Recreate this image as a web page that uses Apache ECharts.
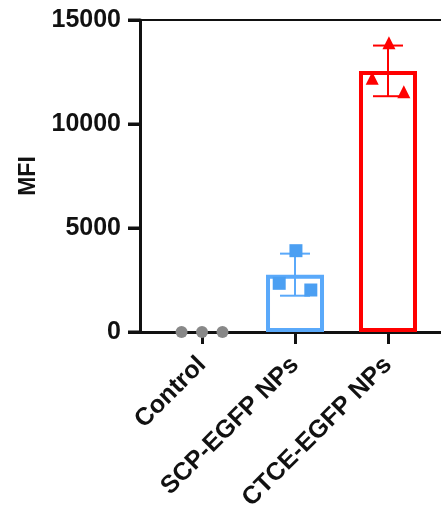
<!DOCTYPE html>
<html>
<head>
<meta charset="utf-8">
<script src="https://cdn.jsdelivr.net/npm/echarts@6/dist/echarts.min.js"></script>
<style>
  html, body { margin: 0; padding: 0; background: #fff; }
  #chart { width: 441px; height: 516px; }
</style>
</head>
<body>
<div id="chart"></div>
<script>
// Group names along the x axis
const groups = ['Control', 'SCP-EGFP NPs', 'CTCE-EGFP NPs'];
// Individual MFI replicates per group
const controlValues = [0, 0, 0];
const scpValues = [2341, 3909, 2019];
const ctceValues = [12197, 13910, 11554];
// Y axis ticks
const yTicks = [0, 5000, 10000, 15000];

// Layout: first group sits this far (in group widths) from the y axis
const firstGroupPos = 0.667;
const xMax = 3.237;
// Horizontal spread of the replicate dots within a group (group widths)
const spreadControl = [-0.22, 0, 0.22];
const spreadGroup = [-0.17, 0.01, 0.17];

const colors = ['#808080', '#5aa9fa', '#ff0000'];
const dotColors = ['#888888', '#4b9ff2', '#ff0000'];
const symbols = ['circle', 'rect', 'triangle'];

const replicates = [controlValues, scpValues, ctceValues];
const groupPos = groups.map((g, i) => firstGroupPos + i);

function mean(a) { return a.reduce((s, v) => s + v, 0) / a.length; }
function sd(a) {
  const m = mean(a);
  return Math.sqrt(a.reduce((s, v) => s + (v - m) * (v - m), 0) / (a.length - 1));
}
const means = replicates.map(mean);
const sds = replicates.map(sd);

function groupAt(v) {
  const idx = groupPos.findIndex(p => Math.abs(p - v) < 1e-6);
  return idx >= 0 ? groups[idx] : '';
}

const chart = echarts.init(document.getElementById('chart'), null, { renderer: 'canvas' });

const fontFamily = '"Liberation Sans", Arial, sans-serif';

const barData = means.map((m, i) => ({
  value: [groupPos[i], m],
  itemStyle: {
    color: 'rgba(255,255,255,0)',
    borderColor: colors[i],
    borderWidth: i === 0 ? 0 : 4
  }
}));

const errData = means
  .map((m, i) => [groupPos[i], m, m - sds[i], m + sds[i], i])
  .filter((d, i) => sds[i] > 0);

const scatterSeries = replicates.map((vals, i) => ({
  type: 'scatter',
  z: 5,
  symbol: symbols[i],
  symbolSize: i === 0 ? 12 : 13,
  itemStyle: { color: dotColors[i], opacity: 1 },
  data: vals.map((v, k) => [groupPos[i] + (i === 0 ? spreadControl[k] : spreadGroup[k]), v]),
  silent: true
}));

const tickStyle = { color: '#111', width: 3 };

const option = {
  animation: false,
  grid: { left: 140, right: 0, top: 20, bottom: 184, containLabel: false },
  xAxis: [
    {
      type: 'value',
      min: 0,
      max: xMax,
      splitLine: { show: false },
      axisLine: { show: true, lineStyle: { color: '#111', width: 3 } },
      axisTick: {
        show: true, length: 12,
        customValues: groupPos,
        lineStyle: tickStyle
      },
      axisLabel: {
        show: true,
        customValues: groupPos,
        formatter: v => groupAt(v),
        rotate: 45,
        margin: 29,
        color: '#111',
        fontSize: 25,
        fontWeight: 'bold',
        fontFamily
      }
    },
    {
      type: 'value',
      position: 'top',
      min: 0,
      max: xMax,
      splitLine: { show: false },
      axisLine: { show: true, lineStyle: { color: '#111', width: 2 } },
      axisTick: { show: false },
      axisLabel: { show: false }
    }
  ],
  yAxis: {
    type: 'value',
    min: 0,
    max: 15000,
    interval: 5000,
    name: 'MFI',
    nameLocation: 'middle',
    nameGap: 100,
    nameRotate: 90,
    nameTextStyle: { color: '#111', fontSize: 23, fontWeight: 'bold', fontFamily },
    splitLine: { show: false },
    axisLine: { show: true, lineStyle: { color: '#111', width: 3 } },
    axisTick: { show: true, length: 12, lineStyle: tickStyle },
    axisLabel: {
      color: '#111',
      fontSize: 25,
      fontWeight: 'bold',
      fontFamily,
      margin: 19,
      formatter: v => String(v)
    }
  },
  series: [
    {
      type: 'bar',
      barWidth: 58,
      z: 3,
      data: barData,
      silent: true
    },
    {
      type: 'custom',
      z: 4,
      silent: true,
      data: errData,
      renderItem: (params, api) => {
        const x = api.value(0);
        const i = api.value(4);
        const hi = api.coord([x, api.value(3)]);
        const lo = api.coord([x, api.value(2)]);
        const half = 15;
        const style = { stroke: colors[i], lineWidth: 2, fill: null };
        return {
          type: 'group',
          children: [
            { type: 'line', shape: { x1: hi[0], y1: hi[1], x2: lo[0], y2: lo[1] }, style },
            { type: 'line', shape: { x1: hi[0] - half, y1: hi[1], x2: hi[0] + half, y2: hi[1] }, style },
            { type: 'line', shape: { x1: lo[0] - half, y1: lo[1], x2: lo[0] + half, y2: lo[1] }, style }
          ]
        };
      }
    },
    {
      // outward tick marks on the MFI scale, placed by the y axis
      type: 'custom',
      z: 6,
      clip: false,
      silent: true,
      data: yTicks.map(v => [0, v]),
      renderItem: (params, api) => {
        const c = api.coord([0, api.value(1)]);
        return {
          type: 'line',
          shape: { x1: c[0] - 12, y1: c[1], x2: c[0], y2: c[1] },
          style: { stroke: '#111', lineWidth: 3 }
        };
      }
    },
    ...scatterSeries
  ]
};

chart.setOption(option);
</script>
</body>
</html>
